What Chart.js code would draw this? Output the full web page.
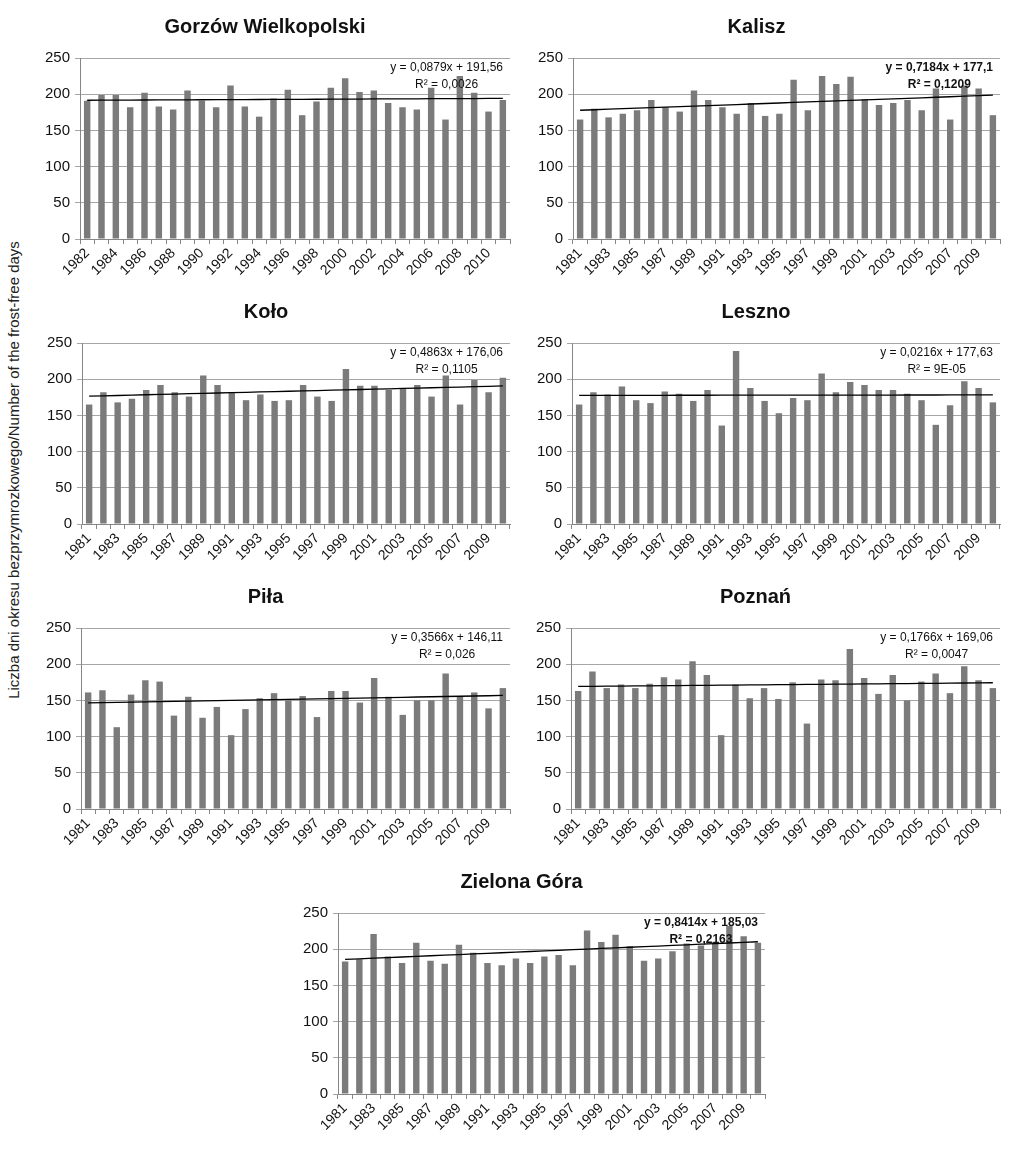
<!DOCTYPE html>
<html>
<head>
<meta charset="utf-8">
<script src="https://cdn.jsdelivr.net/npm/chart.js@4.4.0/dist/chart.umd.min.js"></script>
<style>
html, body { margin: 0; padding: 0; background: #fff; overflow: hidden; }
#page { position: relative; width: 1024px; height: 1151px; overflow: hidden; }
#page canvas { position: absolute; }
#ytitle {
    position: absolute; left: 13px; top: 470px;
    transform: translate(-50%, -50%) rotate(-90deg);
    white-space: nowrap; color: #222;
    font: 15px "Liberation Sans", Arial, sans-serif;
}
</style>
</head>
<body>
<div id="page">
    <div id="ytitle">Liczba dni okresu bezprzymrozkowego/Number of the frost-free days</div>
</div>
<script>
// Categories
const yearsGorzow = ["1982","1983","1984","1985","1986","1987","1988","1989","1990","1991",
    "1992","1993","1994","1995","1996","1997","1998","1999","2000","2001",
    "2002","2003","2004","2005","2006","2007","2008","2009","2010","2011"];
const years = ["1981","1982","1983","1984","1985","1986","1987","1988","1989","1990",
    "1991","1992","1993","1994","1995","1996","1997","1998","1999","2000",
    "2001","2002","2003","2004","2005","2006","2007","2008","2009","2010"];

// Number of frost-free days per station
const gorzow = [191, 199, 199, 182, 202, 183, 179, 205, 191, 182,
    212, 183, 169, 194, 206, 171, 190, 209, 222, 203,
    205, 188, 182, 179, 209, 165, 225, 202, 176, 192];
const kalisz = [165, 180, 168, 173, 178, 192, 182, 176, 205, 192,
    182, 173, 188, 170, 173, 220, 178, 225, 214, 224,
    193, 185, 188, 192, 178, 208, 165, 212, 208, 171];
const kolo = [165, 182, 168, 173, 185, 192, 182, 176, 205, 192,
    182, 171, 179, 170, 171, 192, 176, 170, 214, 191,
    191, 185, 188, 192, 176, 205, 165, 199, 182, 202];
const leszno = [165, 182, 179, 190, 171, 167, 183, 180, 170, 185,
    136, 239, 188, 170, 153, 174, 171, 208, 182, 196,
    192, 185, 185, 180, 171, 137, 164, 197, 188, 168];
const pila = [161, 164, 113, 158, 178, 176, 129, 155, 126, 141,
    102, 138, 153, 160, 150, 156, 127, 163, 163, 147,
    181, 155, 130, 150, 150, 187, 155, 161, 139, 167];
const poznan = [163, 190, 167, 172, 167, 173, 182, 179, 204, 185,
    102, 172, 153, 167, 152, 175, 118, 179, 178, 221,
    181, 159, 185, 150, 176, 187, 160, 197, 178, 167];
const zielonaGora = [183, 186, 221, 190, 181, 209, 184, 180, 206, 195,
    181, 178, 187, 181, 190, 192, 178, 226, 210, 220,
    204, 184, 187, 197, 208, 205, 210, 232, 218, 209];

// Station names, trend equations as printed
const stations = ["Gorzów Wielkopolski", "Kalisz", "Koło", "Leszno", "Piła", "Poznań", "Zielona Góra"];
const slopes = [0.0879, 0.7184, 0.4863, 0.0216, 0.3566, 0.1766, 0.8414];
const intercepts = [191.56, 177.1, 176.06, 177.63, 146.11, 169.06, 185.03];
const eqLabels = ["y = 0,0879x + 191,56", "y = 0,7184x + 177,1", "y = 0,4863x + 176,06",
    "y = 0,0216x + 177,63", "y = 0,3566x + 146,11", "y = 0,1766x + 169,06", "y = 0,8414x + 185,03"];
const r2Labels = ["R² = 0,0026", "R² = 0,1209", "R² = 0,1105", "R² = 9E-05",
    "R² = 0,026", "R² = 0,0047", "R² = 0,2163"];
const boldEq = [false, true, false, false, false, false, true];
const yTicks = [0, 50, 100, 150, 200, 250];

const seriesList = [gorzow, kalisz, kolo, leszno, pila, poznan, zielonaGora];
const labelList = [yearsGorzow, years, years, years, years, years, years];

// where each panel sits on the page
const panels = [
    { left: 20,  top: 0,   width: 524, padRight: 34 },
    { left: 513, top: 0,   width: 524, padRight: 37 },
    { left: 22,  top: 285, width: 520, padRight: 32 },
    { left: 512, top: 285, width: 548, padRight: 60 },
    { left: 21,  top: 570, width: 522, padRight: 33 },
    { left: 511, top: 570, width: 552, padRight: 63 },
    { left: 278, top: 855, width: 498, padRight: 11 },
];
const FONT = '"Liberation Sans", Arial, sans-serif';

// equation + R² in the top right corner of the plot
const trendText = {
    id: "trendText",
    afterDatasetsDraw(chart, args, opts) {
        const { ctx, chartArea } = chart;
        ctx.save();
        ctx.font = (opts.bold ? "bold " : "") + "12px " + FONT;
        ctx.fillStyle = "#111";
        ctx.textAlign = "center";
        ctx.textBaseline = "middle";
        const w = ctx.measureText(opts.eq).width;
        const cx = chartArea.right - 7 - w / 2;
        ctx.fillText(opts.eq, cx, chartArea.top + 10);
        ctx.fillText(opts.r2, cx, chartArea.top + 27);
        ctx.restore();
    },
};

const page = document.getElementById("page");

stations.forEach((name, i) => {
    const p = panels[i];
    const canvas = document.createElement("canvas");
    canvas.width = p.width;
    canvas.height = 279;
    canvas.style.left = p.left + "px";
    canvas.style.top = p.top + "px";
    page.appendChild(canvas);

    const labels = labelList[i];
    const trend = labels.map((_, k) => intercepts[i] + slopes[i] * (k + 1));

    new Chart(canvas.getContext("2d"), {
        type: "bar",
        data: {
            labels: labels,
            datasets: [
                {
                    type: "line",
                    data: trend,
                    borderColor: "#000",
                    borderWidth: 1.3,
                    pointRadius: 0,
                    fill: false,
                    order: 0,
                },
                {
                    data: seriesList[i],
                    backgroundColor: "#7b7b7b",
                    barPercentage: 0.45,
                    categoryPercentage: 1,
                    order: 1,
                },
            ],
        },
        options: {
            responsive: false,
            animation: false,
            layout: { padding: { left: 0, right: p.padRight, top: 0, bottom: 0 } },
            plugins: {
                legend: { display: false },
                tooltip: { enabled: false },
                title: {
                    display: true,
                    text: name,
                    color: "#111",
                    font: { family: FONT, size: 20, weight: "bold" },
                    padding: { top: 15, bottom: 19 },
                },
                trendText: { eq: eqLabels[i], r2: r2Labels[i], bold: boldEq[i] },
            },
            scales: {
                x: {
                    afterFit: (s) => { s.height = 40; },
                    grid: {
                        offset: true,
                        drawOnChartArea: false,
                        tickLength: 5,
                        color: "#868686",
                    },
                    border: { color: "#868686" },
                    ticks: {
                        autoSkip: false,
                        minRotation: 45,
                        maxRotation: 45,
                        padding: 1,
                        color: "#111",
                        font: { family: FONT, size: 14 },
                        callback: function (val, idx) {
                            return idx % 2 === 0 ? this.getLabelForValue(val) : "";
                        },
                    },
                },
                y: {
                    min: yTicks[0],
                    max: yTicks[yTicks.length - 1],
                    afterFit: (s) => { s.width = 60; },
                    afterBuildTicks: (s) => { s.ticks = yTicks.map((v) => ({ value: v })); },
                    grid: { color: "#a6a6a6", tickLength: 5 },
                    border: { color: "#868686" },
                    ticks: {
                        padding: 5,
                        color: "#111",
                        font: { family: FONT, size: 15 },
                    },
                },
            },
        },
        plugins: [trendText],
    });
});
</script>
</body>
</html>
